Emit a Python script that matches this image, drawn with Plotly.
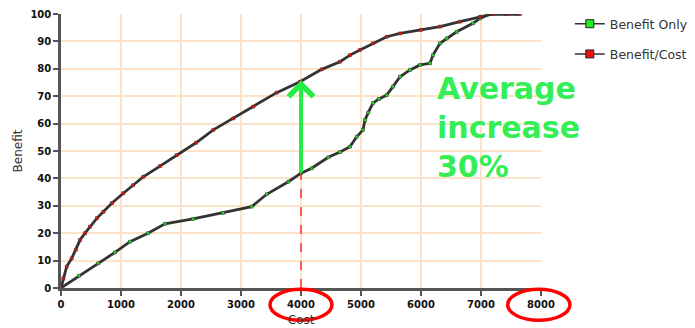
import plotly.graph_objects as go

# Benefit Only curve
only_cost = [0, 300, 622, 900, 1150, 1450, 1733, 2200, 2700, 3178, 3428, 3789, 4000, 4178,
             4455, 4650, 4817, 4928, 5033, 5067, 5120, 5200, 5300, 5428, 5533, 5650, 5817,
             5983, 6150, 6200, 6317, 6428, 6595, 6867, 6983, 7150, 7400, 7600]
only_benefit = [0, 4.5, 9, 13, 16.9, 20, 23.4, 25.2, 27.4, 29.7, 34.2, 38.8, 41.9, 43.7,
                47.7, 49.6, 51.6, 55.2, 57.7, 61.3, 64, 67.5, 69, 70.4, 73.5, 77.1, 79.6,
                81.4, 82, 85, 89.3, 91.1, 93.5, 96.6, 98.4, 100, 100, 100]

# Benefit/Cost curve
bc_cost = [0, 39, 95, 178, 250, 317, 400, 483, 600, 705, 850, 1039, 1200, 1372, 1650, 1928,
           2250, 2539, 2872, 3205, 3595, 3983, 4345, 4650, 4817, 4983, 5200, 5428, 5650,
           6000, 6317, 6650, 6983, 7200, 7450, 7650]
bc_benefit = [0, 3.5, 7.8, 10.8, 14, 17.5, 20, 22.4, 25.5, 27.8, 31, 34.6, 37.5, 40.6, 44.5,
              48.5, 53, 57.7, 61.9, 66.2, 71.3, 75.3, 79.8, 82.6, 85, 86.9, 89.3, 91.7, 92.9,
              94.2, 95.4, 97.2, 99, 100, 100, 100]

x_ticks = [0, 1000, 2000, 3000, 4000, 5000, 6000, 7000, 8000]
y_ticks = [0, 10, 20, 30, 40, 50, 60, 70, 80, 90, 100]

highlight_cost = 4000
low_at = 41.9
high_at = 75.8

fig = go.Figure()
LINE = "#333333"
for name, xs, ys, col in [("Benefit Only", only_cost, only_benefit, "#22dd22"),
                          ("Benefit/Cost", bc_cost, bc_benefit, "#ee1111")]:
    fig.add_trace(go.Scatter(
        x=xs, y=ys, mode="lines+markers", showlegend=False,
        line=dict(color=LINE, width=2.8),
        marker=dict(symbol="square", size=3, color=col, line=dict(color="#333", width=0.5)),
    ))
for i, (name, col) in enumerate([("Benefit Only", "#22ee22"), ("Benefit/Cost", "#ee1111")]):
    fig.add_trace(go.Scatter(
        x=[None], y=[None], mode="lines+markers", name=name, legendgroup=name,
        line=dict(color=LINE, width=1.5),
        marker=dict(symbol="square", size=8, color=col, line=dict(color="#222", width=1)),
    ))

fig.add_shape(type="line", xref="x", yref="y", x0=highlight_cost, x1=highlight_cost,
              y0=0, y1=low_at, line=dict(color="red", width=1.2, dash="dash"))
fig.add_annotation(x=highlight_cost, y=high_at, ax=highlight_cost, ay=low_at,
                   xref="x", yref="y", axref="x", ayref="y", text="",
                   showarrow=True, arrowhead=4, arrowsize=1.2, arrowwidth=4,
                   arrowcolor="#22ee44")

# red ellipses around 4000 and 8000 tick labels
for x0, x1 in [(0.4354, 0.5646), (0.9306, 1.0604)]:
    fig.add_shape(type="circle", xref="paper", yref="paper", x0=x0, x1=x1,
                  y0=-0.005, y1=-0.118, line=dict(color="red", width=3.5))

fig.add_annotation(xref="paper", yref="paper", x=0.78, y=0.80, xanchor="left",
                   yanchor="top", align="left", showarrow=False,
                   text="Average<br>increase<br>30%",
                   font=dict(family="DejaVu Sans", size=30, color="#33ee55", weight="bold"))

axis_common = dict(showline=True, linecolor="#555", linewidth=2.5, mirror=False,
                   showgrid=True, gridcolor="#fde3c9", gridwidth=2, zeroline=False,
                   ticks="outside", ticklen=5, tickwidth=2, tickcolor="#555",
                   automargin=False,
                   tickfont=dict(family="DejaVu Sans", size=10, color="#111", weight="bold"))
fig.update_xaxes(range=[0, 8000], tickvals=x_ticks, title=dict(
    text="Cost", font=dict(family="DejaVu Sans", size=12, color="#333"), standoff=7),
    **axis_common)
fig.update_yaxes(range=[0, 100], tickvals=y_ticks, title=dict(
    text="Benefit", font=dict(family="DejaVu Sans", size=12, color="#333"), standoff=6),
    **axis_common)

fig.update_layout(
    width=695, height=328,
    margin=dict(l=61, r=154, t=14, b=40, autoexpand=False),
    plot_bgcolor="white", paper_bgcolor="white",
    legend=dict(x=1.06, y=1.018, xanchor="left", yanchor="top",
                font=dict(family="DejaVu Sans", size=12.5, color="#333"),
                traceorder="grouped", tracegroupgap=11, bgcolor="rgba(0,0,0,0)"),
)

fig.write_html("out.html", config={"displayModeBar": False},
               post_script="document.body.style.margin='0';")
